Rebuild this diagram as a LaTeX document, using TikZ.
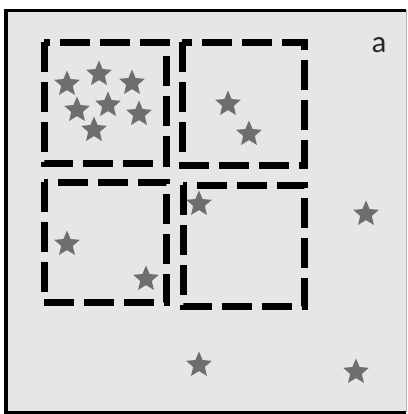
\documentclass[tikz,border=0pt]{standalone}
\usepackage{fontspec}
\setmainfont{Carlito}
\usetikzlibrary{shapes.geometric}
\definecolor{panelBg}{HTML}{E6E6E6}
\definecolor{starGray}{HTML}{6E6E6E}
\tikzset{
  quadbox/.style={line width=7bp, dash pattern=on 30bp off 10bp},
  pt/.style={star, star points=5, star point ratio=2.2, minimum size=27bp, inner sep=0pt, fill=starGray, draw=none}
}
\begin{document}
\begin{tikzpicture}[x=1bp, y=-1bp]
  \useasboundingbox (0,0) rectangle (408,414);
  % Panel
  \fill[panelBg] (6,10) rectangle (406,412);
  \draw[line width=3bp] (406,10) -- (6,10) -- (6,412) -- (406,412);
  \draw[line width=1bp, black!30] (406,10) -- (406,412);
  \node[font=\fontsize{31}{31}\selectfont, text=black!85, anchor=base] (lbl) at (379,52) {a};

  % Quadrant boxes
  \draw[quadbox] (44,42) rectangle (166,163);
  \draw[quadbox] (182,42) rectangle (304,165);
  \draw[quadbox] (44,182) rectangle (166,302);
  \draw[quadbox] (183,185) rectangle (304,306);

  % Points, top-left box
  \node[pt] (p1) at (67,84) {};
  \node[pt] (p2) at (99,74) {};
  \node[pt] (p3) at (132,83) {};
  \node[pt] (p4) at (77,110) {};
  \node[pt] (p5) at (108,105) {};
  \node[pt] (p6) at (139,114) {};
  \node[pt] (p7) at (94,130) {};

  % Points, top-right box
  \node[pt] (p8) at (228,104) {};
  \node[pt] (p9) at (249,134) {};

  % Points, bottom boxes
  \node[pt] (p10) at (67,244) {};
  \node[pt] (p11) at (146,279) {};
  \node[pt] (p12) at (199,204) {};

  % Points outside
  \node[pt] (p13) at (366,214) {};
  \node[pt] (p14) at (199,365) {};
  \node[pt] (p15) at (356,372) {};
\end{tikzpicture}
\end{document}
